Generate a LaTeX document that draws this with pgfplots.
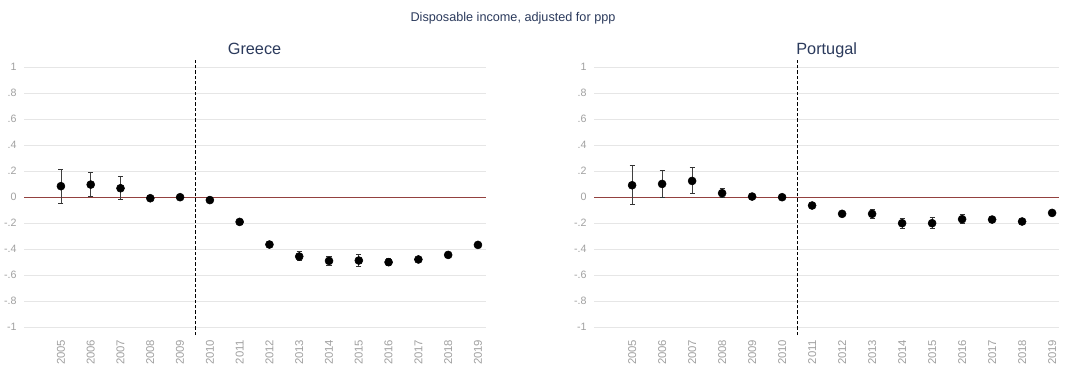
\documentclass[border=0pt]{standalone}
\usepackage{pgfplots}
\pgfplotsset{compat=1.18}
\usepackage{pgfplotstable}
\usepackage{fontspec}
\setmainfont{Liberation Sans}
\definecolor{ttl}{HTML}{2B3A5C}
\definecolor{tck}{HTML}{A0A0A0}
\definecolor{grd}{HTML}{E6E6E6}
\definecolor{zer}{HTML}{93413F}
\pgfplotstableread{
x y ep em
2005 0.085 0.130 0.135
2006 0.097 0.090 0.092
2007 0.069 0.087 0.084
2008 -0.008 0.008 0.008
2009 0.000 0.006 0.006
2010 -0.022 0.008 0.008
2011 -0.190 0.012 0.012
2012 -0.364 0.022 0.022
2013 -0.456 0.036 0.034
2014 -0.490 0.032 0.032
2015 -0.487 0.043 0.043
2016 -0.500 0.028 0.028
2017 -0.479 0.008 0.008
2018 -0.444 0.008 0.008
2019 -0.367 0.022 0.022
}\greece
\pgfplotstableread{
x y ep em
2005 0.092 0.152 0.146
2006 0.102 0.106 0.107
2007 0.125 0.101 0.097
2008 0.031 0.033 0.036
2009 0.005 0.006 0.006
2010 0.000 0.006 0.006
2011 -0.064 0.015 0.015
2012 -0.128 0.015 0.015
2013 -0.128 0.036 0.036
2014 -0.200 0.036 0.041
2015 -0.200 0.044 0.044
2016 -0.169 0.033 0.031
2017 -0.172 0.008 0.008
2018 -0.187 0.008 0.008
2019 -0.121 0.020 0.020
}\portugal
\pgfplotsset{
  panel/.style={
    scale only axis,
    height=206.7pt,
    ymin=-1.06, ymax=1.06,
    axis line style={draw=none},
    major tick length=0pt,
    ytick={-1,-0.8,-0.6,-0.4,-0.2,0,0.2,0.4,0.6,0.8,1},
    yticklabels={-1,-.8,-.6,-.4,-.2,0,.2,.4,.6,.8,1},
    xtick={2005,2006,2007,2008,2009,2010,2011,2012,2013,2014,2015,2016,2017,2018,2019},
    xticklabels={2005,2006,2007,2008,2009,2010,2011,2012,2013,2014,2015,2016,2017,2018,2019},
    ymajorgrids=true,
    grid style={grd, line width=0.75pt},
    tick label style={font=\fontsize{8pt}{9pt}\selectfont, text=tck},
    yticklabel style={anchor=east, xshift=-2pt},
    xticklabel style={rotate=90, anchor=east, font=\fontsize{8.5pt}{9pt}\selectfont},
    clip=false,
  },
  pts/.style={only marks, mark=*, mark size=3pt, mark options={black},
    error bars/.cd, y dir=both, y explicit,
    error bar style={black!75, line width=0.65pt},
    error mark options={rotate=90, mark size=1.9pt, line width=0.65pt, black!80}},
}
\begin{document}
\begin{tikzpicture}
\useasboundingbox (0,0) rectangle (807pt,276.75pt);
\clip (0,0) rectangle (807pt,276.75pt);
\begin{axis}[panel, at={(18pt,25.5pt)}, anchor=south west, width=346.5pt,
  xmin=2003.76, xmax=2019.27]
  \draw[zer, line width=0.75pt] (axis cs:2003.76,0) -- (axis cs:2019.27,0);
  \draw[black, dashed, dash pattern=on 2.5pt off 1.5pt, line width=0.6pt] (axis cs:2009.5,-1.06) -- (axis cs:2009.5,1.06);
  \addplot[pts] table[x=x, y=y, y error plus=ep, y error minus=em] {\greece};
\end{axis}
\begin{axis}[panel, at={(445.5pt,25.5pt)}, anchor=south west, width=348.75pt,
  xmin=2003.73, xmax=2019.23]
  \draw[zer, line width=0.75pt] (axis cs:2003.73,0) -- (axis cs:2019.23,0);
  \draw[black, dashed, dash pattern=on 2.5pt off 1.5pt, line width=0.6pt] (axis cs:2010.5,-1.06) -- (axis cs:2010.5,1.06);
  \addplot[pts] table[x=x, y=y, y error plus=ep, y error minus=em] {\portugal};
\end{axis}
\node[text=ttl, font=\fontsize{12.2pt}{14pt}\selectfont, anchor=base] at (190.9pt,236.25pt) {Greece};
\node[text=ttl, font=\fontsize{12.2pt}{14pt}\selectfont, anchor=base] at (620pt,236.25pt) {Portugal};
\node[text=ttl, font=\fontsize{9.5pt}{11pt}\selectfont, anchor=base] at (384.75pt,260.5pt) {Disposable income, adjusted for ppp};
\end{tikzpicture}
\end{document}
